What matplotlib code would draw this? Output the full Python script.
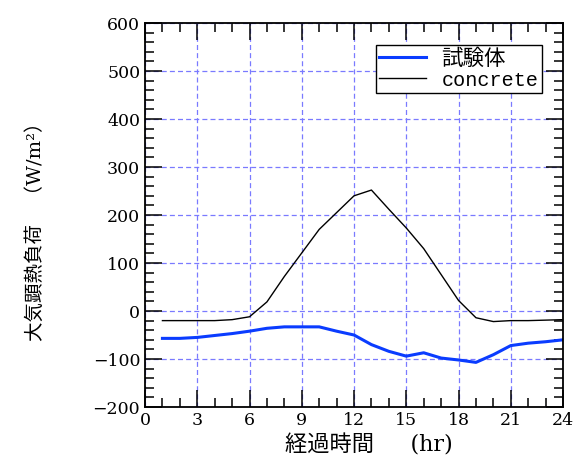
import matplotlib
matplotlib.use("Agg")
import matplotlib.pyplot as plt
import numpy as np

plt.rcParams['font.family'] = ['DejaVu Serif', 'Noto Sans CJK JP']

# データ
hours = np.arange(1, 25)
test_body = [-57, -57, -55, -51, -47, -42, -36, -33, -33, -33, -42, -50,
             -70, -84, -94, -87, -98, -102, -107, -91, -72, -67, -64, -60]
concrete = [-20, -20, -20, -20, -18, -12, 19, 72, 121, 170, 205, 240,
            252, 212, 173, 130, 76, 22, -14, -22, -20, -20, -19, -18]
labels = ['試験体', 'concrete']

fig = plt.figure(figsize=(5.78, 4.61), dpi=100)
ax = fig.add_axes([0.2509, 0.1171, 0.7232, 0.8330])

ax.plot(hours, test_body, color='#0a3cff', lw=2.2, label=labels[0])
ax.plot(hours, concrete, color='black', lw=1.0, label=labels[1])

ax.set_xlim(0, 24)
ax.set_ylim(-200, 600)
ax.set_xticks(np.arange(0, 25, 3))
ax.set_yticks(np.arange(-200, 601, 100))
ax.set_xticks(np.arange(0, 25, 1), minor=True)
ax.set_yticks(np.arange(-200, 601, 20), minor=True)
ax.tick_params(which='both', direction='in', top=True, right=True,
               width=1.1, labelsize=12.5)
ax.tick_params(which='major', length=12)
ax.tick_params(which='minor', length=6.5)
ax.grid(True, which='major', color='#7a7aff', ls=(0, (4, 2.5)), lw=0.9)
for s in ax.spines.values():
    s.set_linewidth(1.3)

ax.set_xlabel('経過時間　  (hr)', fontsize=16, va='top')
ax.xaxis.set_label_coords(0.535, -0.07)
ax.set_ylabel('大気顕熱負荷　（W/m²）', fontsize=14)
ax.yaxis.set_label_coords(-0.24, 0.47)

leg = ax.legend(loc='upper right', fontsize=15.5, fancybox=False,
                framealpha=1, edgecolor='black', borderaxespad=1.0,
                handlelength=2.2, borderpad=0.15, labelspacing=0.05,
                handletextpad=0.7)
leg.get_frame().set_linewidth(1.0)
leg.get_texts()[1].set_family('Liberation Mono')
leg.get_texts()[1].set_fontsize(14.5)

fig.savefig('out.png', dpi=100)
